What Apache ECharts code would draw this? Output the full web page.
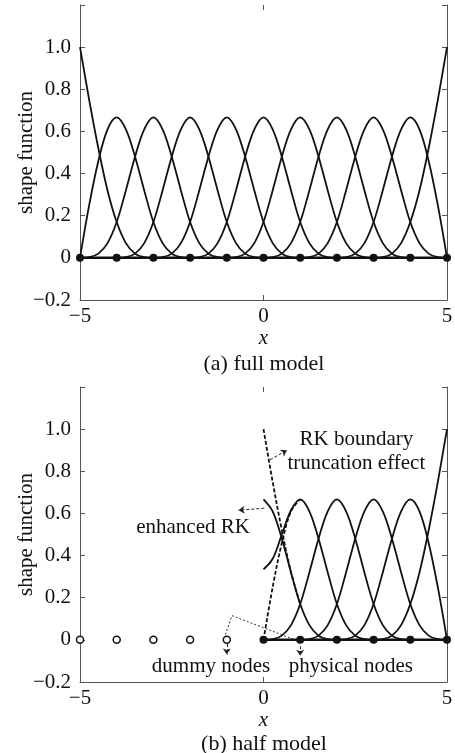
<!DOCTYPE html>
<html>
<head>
<meta charset="utf-8">
<script src="https://cdn.jsdelivr.net/npm/echarts@6/dist/echarts.min.js"></script>
<style>
  html, body { margin: 0; padding: 0; background: #fff; }
  #chart { width: 455px; height: 753px; }
</style>
</head>
<body>
<div id="chart"></div>
<script>
// nodes
const fullNodes = [-5, -4, -3, -2, -1, 0, 1, 2, 3, 4, 5];
const physicalNodes = [0, 1, 2, 3, 4, 5];
const dummyNodes = [-5, -4, -3, -2, -1];

// interior shape function around its node (offset from node, value)
const bellOffsets = [-2, -1.75, -1.5, -1.25, -1, -0.75, -0.5, -0.25, 0, 0.25, 0.5, 0.75, 1, 1.25, 1.5, 1.75, 2];
const bellValues = [0, 0.003, 0.02, 0.07, 0.17, 0.32, 0.48, 0.61, 0.667, 0.61, 0.48, 0.32, 0.17, 0.07, 0.02, 0.003, 0];
const bellCentersFull = [-3, -2, -1, 0, 1, 2, 3];
const bellCentersHalf = [2, 3];

// boundary node function (distance from the boundary, value)
const edgeOffsets = [0, 0.25, 0.5, 0.75, 1, 1.25, 1.5, 1.75, 2];
const edgeValues = [1.0, 0.75, 0.52, 0.32, 0.17, 0.07, 0.02, 0.003, 0];

// node next to the boundary
const nearOffsets = [0, 0.25, 0.5, 0.75, 1, 1.25, 1.5, 1.75, 2, 2.25, 2.5, 2.75, 3];
const nearValues = [0, 0.25, 0.46, 0.61, 0.667, 0.61, 0.48, 0.32, 0.17, 0.07, 0.02, 0.003, 0];

// half model: enhanced RK at x = 0 (solid)
const enhX0 = [0, 0.25, 0.5, 0.75, 1, 1.25, 1.5, 1.75, 2];
const enhY0 = [0.667, 0.61, 0.48, 0.32, 0.17, 0.07, 0.02, 0.003, 0];
const enhX1 = [0, 0.25, 0.5, 0.75, 1, 1.25, 1.5, 1.75, 2, 2.25, 2.5, 2.75, 3];
const enhY1 = [0.335, 0.385, 0.5, 0.615, 0.667, 0.61, 0.48, 0.32, 0.17, 0.07, 0.02, 0.003, 0];

// half model: truncated RK (dashed)
const truncX = [0, 0.25, 0.5, 0.75, 1];
const truncDown = [1.0, 0.75, 0.52, 0.32, 0.17];
const truncUp = [0, 0.25, 0.46, 0.61, 0.667];

// tick labels
const xTickLabels = { "-5": "\u22125", "0": "0", "5": "5" };
const yTickLabels = ["\u22120.2", "0", "0.2", "0.4", "0.6", "0.8", "1.0", ""];

// annotations of panel (b)
const noteTexts = ["RK boundary", "truncation effect", "enhanced RK", "dummy nodes", "physical nodes"];
const noteX = [2.53, 2.53, -1.92, -1.43, 2.38];
const noteY = [0.95, 0.835, 0.535, -0.125, -0.125];
const arrows = [
  [[0.18, 0.855], [0.64, 0.9]],
  [[0.02, 0.625], [-0.68, 0.615]],
  [[-1, -0.02], [-1, -0.07]],
  [[1, -0.03], [1, -0.075]],
];
const mirrorPath = [[-1.04, 0.025], [-0.86, 0.115], [0.86, 0.0]];

const FONT = "Liberation Serif";
const FS = 21;
const INK = "#111";
const AXIS = "#555";

function curve(xs, ys, gi, dashed) {
  return {
    type: "line",
    xAxisIndex: gi * 2,
    yAxisIndex: gi * 2,
    data: xs.map((x, i) => [x, ys[i]]),
    smooth: 0.35,
    showSymbol: false,
    symbol: "none",
    lineStyle: { color: INK, width: 1.8, type: dashed ? [4, 2] : "solid" },
    z: 3,
  };
}

function shifted(center, offs, vals, gi, sign) {
  return curve(offs.map((o) => center + sign * o), vals, gi, false);
}

const series = [];

// (a) full model
series.push(shifted(-5, edgeOffsets, edgeValues, 0, 1));
series.push(shifted(5, edgeOffsets, edgeValues, 0, -1));
series.push(shifted(-5, nearOffsets, nearValues, 0, 1));
series.push(shifted(5, nearOffsets, nearValues, 0, -1));
bellCentersFull.forEach((c) => series.push(shifted(c, bellOffsets, bellValues, 0, 1)));
series.push({
  type: "line",
  xAxisIndex: 0,
  yAxisIndex: 0,
  data: fullNodes.map((x) => [x, 0]),
  symbol: "circle",
  symbolSize: 8,
  itemStyle: { color: INK },
  lineStyle: { color: INK, width: 2.5 },
  z: 5,
});

// (b) half model
series.push(shifted(5, edgeOffsets, edgeValues, 1, -1));
series.push(shifted(5, nearOffsets, nearValues, 1, -1));
bellCentersHalf.forEach((c) => series.push(shifted(c, bellOffsets, bellValues, 1, 1)));
series.push(curve(enhX0, enhY0, 1, false));
series.push(curve(enhX1, enhY1, 1, false));
series.push(curve(truncX, truncDown, 1, true));
series.push(curve(truncX, truncUp, 1, true));
series.push({
  type: "line",
  xAxisIndex: 2,
  yAxisIndex: 2,
  data: physicalNodes.map((x) => [x, 0]),
  symbol: "circle",
  symbolSize: 8,
  itemStyle: { color: INK },
  lineStyle: { color: INK, width: 2.5 },
  z: 5,
});
series.push({
  type: "scatter",
  xAxisIndex: 2,
  yAxisIndex: 2,
  data: dummyNodes.map((x) => [x, 0]),
  symbol: "circle",
  symbolSize: 7,
  itemStyle: { color: "#fff", borderColor: INK, borderWidth: 1.5, opacity: 1 },
  z: 5,
});
// dotted link between dummy and physical node + arrows
series.push({
  type: "line",
  xAxisIndex: 2,
  yAxisIndex: 2,
  data: mirrorPath,
  symbol: "none",
  lineStyle: { color: "#333", width: 1, type: [2, 2] },
  z: 2,
  markLine: {
    silent: true,
    symbol: ["none", "arrow"],
    symbolSize: 6,
    label: { show: false },
    lineStyle: { color: "#222", width: 1, type: [3, 2] },
    data: arrows.map((a) => [{ coord: a[0] }, { coord: a[1] }]),
  },
});
series.push({
  type: "scatter",
  xAxisIndex: 2,
  yAxisIndex: 2,
  data: noteTexts.map((t, i) => ({ name: t, value: [noteX[i], noteY[i]] })),
  symbolSize: 1,
  itemStyle: { color: "transparent", opacity: 1 },
  label: {
    show: true,
    position: "inside",
    formatter: "{b}",
    color: INK,
    fontFamily: FONT,
    fontSize: FS,
  },
  z: 6,
});

function xAxes(gi) {
  return [
    {
      type: "value",
      gridIndex: gi,
      min: -5,
      max: 5,
      interval: 5,
      name: "x",
      nameLocation: "middle",
      nameGap: 26,
      nameTextStyle: { fontFamily: FONT, fontStyle: "italic", fontSize: FS, color: INK },
      axisLine: { show: true, onZero: false, lineStyle: { color: AXIS, width: 1 } },
      axisTick: { show: true, inside: true, length: 5, lineStyle: { color: AXIS } },
      axisLabel: {
        margin: 6,
        fontFamily: FONT,
        fontSize: FS,
        color: INK,
        formatter: (v) => xTickLabels[String(Math.round(v))],
      },
      splitLine: { show: false },
    },
    {
      // top edge: only the small tick at x = 0, no line
      type: "value",
      gridIndex: gi,
      position: "top",
      min: -5,
      max: 5,
      interval: 5,
      axisLine: { show: false, onZero: false, lineStyle: { opacity: 0 } },
      axisTick: { show: true, inside: true, length: 5, lineStyle: { color: AXIS } },
      axisLabel: { show: false },
      splitLine: { show: false },
    },
  ];
}

function yAxes(gi) {
  return [
    {
      type: "value",
      gridIndex: gi,
      min: -0.2,
      max: 1.2,
      interval: 0.2,
      name: "shape function",
      nameLocation: "middle",
      nameGap: 43,
      nameMoveOverlap: false,
      nameTextStyle: { fontFamily: FONT, fontSize: FS, color: INK },
      axisLine: { show: true, onZero: false, lineStyle: { color: AXIS, width: 1 } },
      axisTick: { show: true, inside: true, length: 5, lineStyle: { color: AXIS } },
      axisLabel: {
        margin: 9,
        fontFamily: FONT,
        fontSize: FS,
        color: INK,
        formatter: (v) => yTickLabels[Math.round((v + 0.2) / 0.2)],
      },
      splitLine: { show: false },
    },
    {
      type: "value",
      gridIndex: gi,
      position: "right",
      min: -0.2,
      max: 1.2,
      interval: 0.2,
      axisLine: { show: true, onZero: false, lineStyle: { color: AXIS, width: 1 } },
      axisTick: { show: true, inside: true, length: 5, lineStyle: { color: AXIS } },
      axisLabel: { show: false },
      splitLine: { show: false },
    },
  ];
}

const chart = echarts.init(document.getElementById("chart"));
chart.setOption({
  animation: false,
  backgroundColor: "#fff",
  textStyle: { fontFamily: FONT },
  title: [
    { text: "(a) full model", left: 259, top: 348, textAlign: "center",
      textStyle: { fontFamily: FONT, fontSize: 22, fontWeight: "normal", color: INK } },
    { text: "(b) half model", left: 259, top: 728, textAlign: "center",
      textStyle: { fontFamily: FONT, fontSize: 22, fontWeight: "normal", color: INK } },
  ],
  grid: [
    { left: 80, right: 8, top: 5, height: 295, outerBoundsMode: "none" },
    { left: 80, right: 8, top: 387, height: 295, outerBoundsMode: "none" },
  ],
  xAxis: [...xAxes(0), ...xAxes(1)],
  yAxis: [...yAxes(0), ...yAxes(1)],
  series: series,
});
</script>
</body>
</html>
